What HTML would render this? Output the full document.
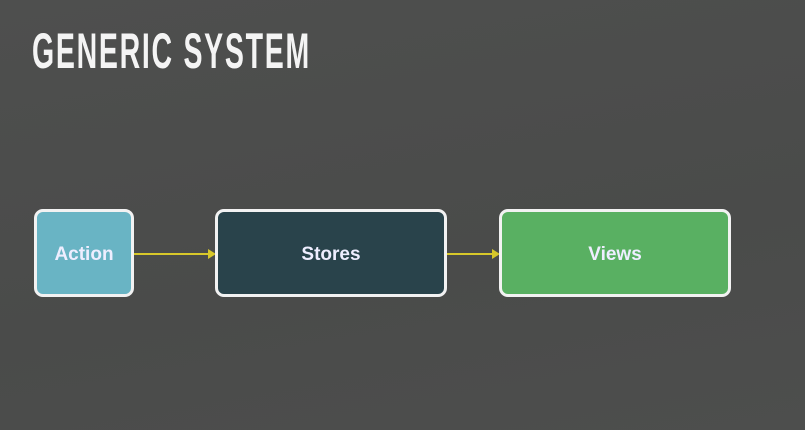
<!DOCTYPE html>
<html><head><style>
html,body{margin:0;padding:0}
body{width:805px;height:430px;background:linear-gradient(170deg,#4e4f4e,#4a4b4a 60%,#4d4e4d);position:relative;overflow:hidden;font-family:"Liberation Sans",sans-serif}
.t{position:absolute;left:32px;top:22px;color:#f4f4f4;font-size:50px;font-weight:bold;letter-spacing:3px;transform:scaleX(0.57);transform-origin:0 0;white-space:nowrap;font-family:"Liberation Sans Narrow","Liberation Sans",sans-serif}
.b{position:absolute;top:209px;height:82px;border:3px solid #f2f2f2;border-radius:9px;color:#eef;font-weight:bold;font-size:19px;display:flex;align-items:center;justify-content:center;padding-top:4px;box-sizing:content-box;height:78px}
.l{position:absolute;top:253px;height:2px;background:#d8c82a}
.a{position:absolute;top:249px;width:0;height:0;border-top:5px solid transparent;border-bottom:5px solid transparent;border-left:8px solid #d8c82a}
</style></head><body>
<div class="t">GENERIC SYSTEM</div>
<div class="b" style="left:34px;width:94px;background:#69b4c4">Action</div>
<div class="l" style="left:134px;width:76px"></div><div class="a" style="left:208px"></div>
<div class="b" style="left:215px;width:226px;background:#29434b">Stores</div>
<div class="l" style="left:447px;width:47px"></div><div class="a" style="left:492px"></div>
<div class="b" style="left:499px;width:226px;background:#59b062">Views</div>
</body></html>
